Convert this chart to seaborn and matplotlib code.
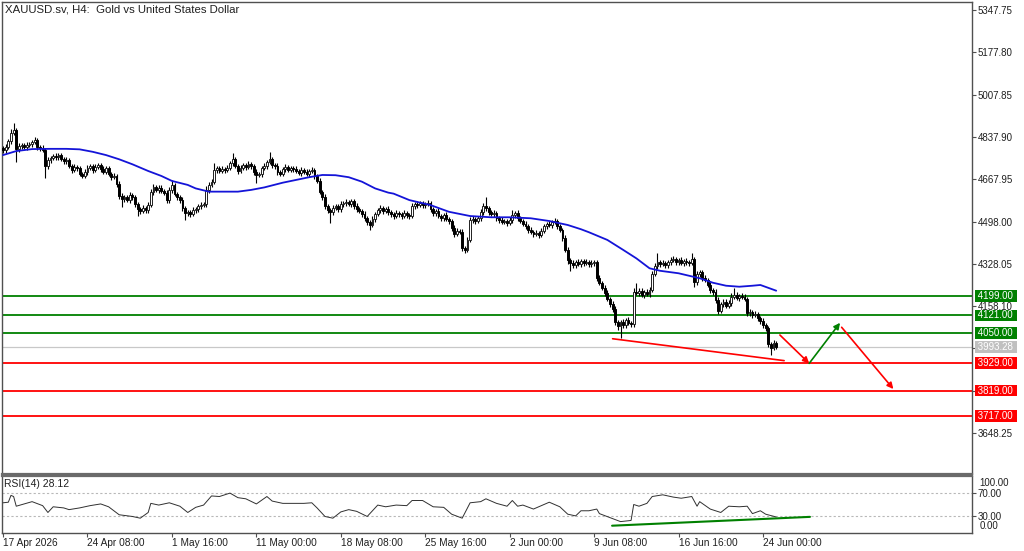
import numpy as np
import matplotlib
matplotlib.use("Agg")
import matplotlib.pyplot as plt
import seaborn as sns

# ---------------- data ----------------
title_text = "XAUUSD.sv, H4:  Gold vs United States Dollar"

first_open = 4793.0
closes = [
    4785, 4797, 4822, 4854, 4866, 4789, 4801, 4805, 4797, 4805,
    4809, 4817, 4826, 4797, 4793, 4785, 4721, 4745, 4753, 4761,
    4757, 4765, 4749, 4741, 4745, 4721, 4705, 4717, 4713, 4689,
    4681, 4697, 4713, 4721, 4705, 4717, 4725, 4709, 4697, 4713,
    4689, 4677, 4681, 4649, 4600, 4588, 4596, 4584, 4604, 4596,
    4568, 4548, 4540, 4552, 4544, 4564, 4617, 4637, 4625, 4633,
    4621, 4613, 4584, 4625, 4645, 4608, 4596, 4584, 4552, 4532,
    4536, 4528, 4544, 4548, 4560, 4564, 4568, 4625, 4645, 4657,
    4705, 4713, 4701, 4709, 4705, 4713, 4733, 4749, 4721, 4701,
    4713, 4725, 4717, 4729, 4721, 4697, 4685, 4689, 4713, 4721,
    4737, 4749, 4725, 4721, 4697, 4689, 4709, 4717, 4705, 4713,
    4709, 4701, 4693, 4705, 4697, 4689, 4701, 4705, 4681, 4661,
    4617, 4596, 4560, 4544, 4536, 4552, 4560, 4548, 4568, 4572,
    4576, 4568, 4580, 4560, 4548, 4540, 4528, 4512, 4496, 4484,
    4508, 4528, 4544, 4552, 4540, 4548, 4536, 4528, 4520, 4532,
    4528, 4520, 4532, 4524, 4520, 4560, 4568, 4564, 4572, 4564,
    4568, 4572, 4548, 4532, 4540, 4520, 4512, 4524, 4508, 4500,
    4472, 4448, 4460, 4456, 4392, 4384, 4424, 4504, 4508, 4500,
    4512, 4536, 4560, 4552, 4536, 4528, 4532, 4512, 4504, 4496,
    4500, 4492, 4504, 4524, 4532, 4512, 4500, 4488, 4480, 4464,
    4456, 4448, 4452, 4444, 4460, 4480, 4488, 4484, 4496, 4500,
    4480, 4464, 4432, 4384, 4343, 4331, 4323, 4335, 4327, 4339,
    4331, 4335, 4327, 4331, 4335, 4271, 4251, 4231, 4211, 4187,
    4167, 4146, 4094, 4078, 4094, 4082, 4102, 4090, 4086, 4215,
    4211, 4219, 4203, 4215, 4207, 4223, 4287, 4319, 4335, 4327,
    4331, 4323, 4335, 4343, 4347, 4335, 4343, 4331, 4339, 4335,
    4331, 4347, 4255, 4287, 4295, 4271, 4263, 4243, 4223, 4215,
    4183, 4138, 4167, 4175, 4159, 4171, 4195, 4203, 4191, 4199,
    4195, 4187, 4130, 4134, 4122, 4126, 4110, 4098, 4082, 4070,
    4006, 3990, 4010, 3993.28,
]
upper_wick = [
    10, 12, 9, 14, 28, 8, 12, 10, 9, 11,
    8, 10, 12, 9, 8, 11, 9, 14, 10, 8,
    12, 9, 10, 8, 13, 10, 9, 12, 10, 8,
    9, 11, 13, 10, 8, 12, 9, 10, 11, 9,
    10, 8, 12, 9, 10, 14, 9, 10, 12, 8,
    9, 10, 8, 12, 9, 11, 10, 13, 9, 10,
    11, 9, 10, 12, 20, 9, 10, 8, 11, 9,
    10, 8, 12, 9, 10, 11, 8, 14, 10, 12,
    28, 9, 10, 12, 9, 11, 10, 24, 9, 10,
    12, 9, 10, 11, 8, 10, 12, 9, 10, 11,
    10, 28, 9, 10, 12, 8, 10, 11, 9, 10,
    9, 11, 10, 12, 8, 10, 9, 12, 10, 9,
    10, 8, 12, 9, 10, 11, 10, 9, 12, 10,
    11, 9, 10, 8, 12, 9, 10, 11, 8, 10,
    12, 10, 9, 11, 10, 8, 12, 9, 10, 11,
    9, 10, 12, 8, 10, 11, 9, 14, 10, 9,
    10, 12, 9, 10, 8, 11, 10, 9, 12, 10,
    9, 11, 10, 8, 12, 9, 10, 14, 11, 9,
    10, 12, 14, 36, 10, 9, 11, 10, 8, 12,
    10, 9, 12, 20, 10, 11, 9, 10, 12, 8,
    10, 9, 11, 8, 12, 10, 9, 11, 10, 12,
    9, 10, 8, 12, 10, 9, 11, 10, 12, 9,
    10, 12, 9, 11, 10, 8, 12, 9, 10, 11,
    9, 10, 12, 8, 10, 11, 9, 12, 10, 14,
    36, 10, 12, 9, 11, 10, 14, 12, 36, 10,
    12, 9, 10, 11, 14, 10, 9, 12, 10, 11,
    10, 24, 8, 12, 10, 9, 11, 10, 12, 9,
    10, 12, 9, 11, 10, 12, 14, 28, 10, 9,
    10, 12, 9, 11, 10, 12, 9, 10, 11, 8,
    10, 9, 12, 8,
]
lower_wick = [
    12, 10, 9, 11, 10, 52, 10, 12, 9, 10,
    9, 10, 8, 12, 10, 9, 48, 10, 12, 9,
    10, 11, 9, 12, 10, 9, 12, 10, 11, 9,
    10, 9, 12, 10, 11, 9, 10, 12, 9, 10,
    9, 12, 10, 11, 10, 32, 12, 9, 10, 11,
    10, 28, 12, 9, 11, 10, 9, 12, 10, 11,
    10, 9, 12, 10, 11, 9, 10, 12, 10, 28,
    12, 10, 9, 11, 10, 12, 9, 10, 11, 9,
    10, 12, 9, 10, 11, 9, 10, 12, 9, 11,
    9, 10, 12, 9, 10, 11, 32, 10, 12, 9,
    10, 9, 12, 10, 11, 9, 10, 12, 9, 10,
    11, 9, 10, 12, 9, 10, 11, 9, 12, 10,
    9, 12, 10, 11, 44, 10, 9, 12, 10, 11,
    10, 9, 11, 12, 10, 9, 12, 10, 11, 20,
    10, 12, 9, 11, 10, 9, 12, 10, 11, 9,
    10, 12, 9, 11, 10, 9, 12, 10, 9, 11,
    10, 9, 12, 10, 11, 9, 10, 12, 9, 10,
    11, 12, 9, 10, 12, 13, 10, 9, 12, 10,
    9, 10, 11, 12, 10, 9, 12, 10, 11, 9,
    10, 12, 9, 11, 10, 12, 9, 10, 11, 12,
    9, 11, 10, 12, 9, 10, 11, 9, 12, 10,
    11, 10, 12, 9, 14, 32, 10, 12, 9, 11,
    10, 9, 12, 10, 11, 12, 10, 9, 12, 10,
    11, 12, 10, 14, 48, 10, 12, 9, 11, 10,
    10, 12, 9, 11, 10, 12, 10, 9, 11, 10,
    9, 11, 10, 12, 9, 10, 11, 9, 12, 10,
    10, 9, 20, 11, 10, 12, 9, 10, 11, 12,
    12, 10, 9, 11, 10, 9, 12, 10, 9, 11,
    10, 9, 12, 10, 11, 9, 10, 12, 11, 10,
    12, 28, 10, 9,
]

# Moving average (blue): bar index -> price
ma_bars = [0, 5, 11, 18, 24, 29, 34, 39, 44, 49, 55, 60, 64, 70, 73, 78, 83, 89, 94, 99,
           106, 111, 116, 121, 126, 131, 136, 141, 146, 148, 154, 162, 169, 177, 185, 192,
           200, 207, 214, 219, 222, 229, 235, 240, 245, 249, 256, 264, 269, 274, 279, 284,
           287, 293]
ma_values = [4765, 4781, 4789, 4790, 4790, 4788, 4778, 4765, 4748, 4728, 4701, 4681, 4661,
             4645, 4631, 4618, 4618, 4618, 4625, 4635, 4654, 4665, 4676, 4685, 4684, 4676,
             4658, 4631, 4614, 4610, 4584, 4564, 4537, 4520, 4515, 4515, 4511, 4500, 4484,
             4467, 4455, 4424, 4384, 4350, 4310, 4300, 4290, 4270, 4252, 4240, 4236, 4240,
             4243, 4220]

# RSI(14) read along the sub-window: bar index -> value
rsi_bars = [0, 2, 3, 4, 5, 11, 15, 17, 19, 23, 25, 29, 33, 37, 40, 44, 49, 52, 55, 56, 59,
            63, 67, 70, 73, 76, 79, 82, 86, 89, 92, 96, 100, 102, 106, 110, 114, 117, 119,
            122, 125, 128, 131, 134, 138, 142, 145, 149, 153, 155, 159, 163, 167, 170, 174,
            177, 181, 183, 187, 191, 193, 195, 197, 201, 205, 207, 211, 214, 217, 219, 222,
            225, 226, 230, 234, 238, 239, 241, 244, 246, 250, 254, 257, 261, 263, 264, 268,
            272, 275, 279, 282, 284, 287, 289, 293]
rsi_values = [53, 54, 66, 64, 47, 55, 48, 36, 46, 44, 41, 44, 48, 51, 46, 32, 29, 26, 36, 52,
              49, 53, 47, 36, 45, 49, 65, 64, 70, 62, 60, 51, 64, 56, 52, 52, 52, 53, 44, 29,
              26, 37, 41, 38, 29, 49, 46, 49, 48, 57, 57, 46, 45, 33, 26, 53, 55, 60, 52, 47,
              57, 47, 49, 42, 50, 54, 46, 33, 30, 39, 39, 42, 34, 27, 20, 22, 50, 47, 52, 64,
              67, 63, 61, 64, 47, 55, 42, 36, 47, 46, 47, 34, 39, 33, 28.12]
rsi_label = "RSI(14) 28.12"

date_labels = ["17 Apr 2026", "24 Apr 08:00", "1 May 16:00", "11 May 00:00", "18 May 08:00",
               "25 May 16:00", "2 Jun 00:00", "9 Jun 08:00", "16 Jun 16:00", "24 Jun 00:00"]
bars_per_label = 32

price_ticks = [5347.75, 5177.80, 5007.85, 4837.90, 4667.95, 4498.00, 4328.05,
               4158.10, 3988.15, 3818.20, 3648.25]
hidden_price_labels = [3988.15, 3818.20]   # covered by price tags in the chart
resistance_levels = [4199.00, 4121.00, 4050.00]
support_levels = [3929.00, 3819.00, 3717.00]
last_price = 3993.28

# drawn analysis: falling red trendline under lows, forecast arrows
trend_bars = [231, 296]
trend_prices = [4027, 3939]
arrow1_bars, arrow1_prices = [294.4, 305.5], [4042, 3928]
arrow2_bars, arrow2_prices = [305.5, 317.2], [3928, 4091]
arrow3_bars, arrow3_prices = [317.8, 337.4], [4073, 3825]
rsi_trend_bars = [230.8, 305.8]
rsi_trend_values = [12.8, 28.3]

# ---------------- styling ----------------
sns.set_theme(style="white")
plt.rcParams["font.family"] = ["Liberation Sans", "DejaVu Sans"]

W, H = 1024, 551
fig = plt.figure(figsize=(W / 100, H / 100), dpi=100, facecolor="white")
ax = fig.add_axes([2 / W, 1 - 474 / H, 970 / W, 472 / H])
axr = fig.add_axes([2 / W, 1 - 533 / H, 970 / W, 57 / H], sharex=ax)

GREEN = "#008000"
RED = "#FF0000"
FRAME = "#505050"
TXT = "#202020"

closes_a = np.array(closes, dtype=float)
n = len(closes_a)
idx = np.arange(n)
opens_a = np.r_[first_open, closes_a[:-1]]
highs = np.maximum(opens_a, closes_a) + np.array(upper_wick)
lows = np.minimum(opens_a, closes_a) - np.array(lower_wick)
bull = closes_a >= opens_a

# horizontal levels
for lv in resistance_levels:
    ax.axhline(lv, color=GREEN, lw=1.3, zorder=2)
for lv in support_levels:
    ax.axhline(lv, color=RED, lw=1.3, zorder=2)
ax.axhline(last_price, color="#C8C8C8", lw=0.9, zorder=1.5)

# candles
ax.vlines(idx, lows, highs, color="black", lw=0.8, zorder=3)
ax.bar(idx[bull], (closes_a - opens_a)[bull], bottom=opens_a[bull], width=0.7,
       color="white", edgecolor="#202020", linewidth=0.7, zorder=4)
ax.bar(idx[~bull], (opens_a - closes_a)[~bull], bottom=closes_a[~bull], width=0.7,
       color="black", edgecolor="black", linewidth=0.7, zorder=4)

# moving average
sns.lineplot(x=ma_bars, y=ma_values, ax=ax, color="#1414D8", lw=1.3, sort=False,
             estimator=None, zorder=5)

# trendline + forecast arrows
ax.plot(trend_bars, trend_prices, color=RED, lw=1.2, zorder=5)
for bx, py, col in [(arrow1_bars, arrow1_prices, RED), (arrow2_bars, arrow2_prices, GREEN),
                    (arrow3_bars, arrow3_prices, RED)]:
    ax.annotate("", xy=(bx[1], py[1]), xytext=(bx[0], py[0]),
                arrowprops=dict(arrowstyle="-|>", color=col, lw=1.2, mutation_scale=9,
                                shrinkA=0, shrinkB=0), zorder=6)

ax.set_xlim(-0.4, 367.2)
ax.set_ylim(3483.5, 5380)
ax.yaxis.tick_right()
ax.set_yticks(price_ticks)
ax.set_yticklabels(["" if p in hidden_price_labels else f"{p:.2f}" for p in price_ticks])
ax.tick_params(axis="y", which="both", direction="out", length=3, width=0.8, pad=1,
               labelsize=7, colors=FRAME, labelcolor=TXT, right=True, left=False)
ax.tick_params(axis="x", which="both", bottom=False, labelbottom=False)
ax.set_xlabel("")
ax.set_ylabel("")
for s in ["left", "top", "right"]:
    ax.spines[s].set_color(FRAME)
    ax.spines[s].set_linewidth(1.0)
ax.spines["bottom"].set_color("#6A6A6A")
ax.spines["bottom"].set_linewidth(1.6)

ax.text(3 / 970, 1 - 2 / 472, title_text, transform=ax.transAxes, ha="left", va="top",
        fontsize=8.2, color=TXT)

# price tags on the right axis
ytr = ax.get_yaxis_transform()
tags = [(lv, GREEN) for lv in resistance_levels] + [(last_price, "#C0C0C0")] + \
       [(lv, RED) for lv in support_levels]
for lv, col in tags:
    ax.text(1.0035, lv, f" {lv:.2f} ", transform=ytr, ha="left", va="center", fontsize=7,
            color="white", clip_on=False, zorder=10,
            bbox=dict(boxstyle="square,pad=0.08", fc=col, ec=col, lw=0))

# ---------------- RSI window ----------------
axr.axhline(70, color="#B8B8B8", lw=0.8, ls=(0, (2, 2)), zorder=1)
axr.axhline(30, color="#B8B8B8", lw=0.8, ls=(0, (2, 2)), zorder=1)
sns.lineplot(x=rsi_bars, y=rsi_values, ax=axr, color="#303030", lw=0.7, sort=False,
             estimator=None, zorder=3)
axr.plot(rsi_trend_bars, rsi_trend_values, color=GREEN, lw=1.5, zorder=4)
axr.set_ylim(0, 100)
axr.yaxis.tick_right()
axr.set_yticks([70, 30])
axr.set_yticklabels(["70.00", "30.00"])
axr.tick_params(axis="y", direction="out", length=3, width=0.8, pad=1, labelsize=7,
                colors=FRAME, labelcolor=TXT, right=True, left=False)
ytr2 = axr.get_yaxis_transform()
axr.text(1.0075, 96, "100.00", transform=ytr2, ha="left", va="top", fontsize=7, color=TXT,
         clip_on=False)
axr.text(1.0075, 4, "0.00", transform=ytr2, ha="left", va="bottom", fontsize=7, color=TXT,
         clip_on=False)
axr.text(2 / 970, 1 - 3 / 57, rsi_label, transform=axr.transAxes, ha="left", va="top",
         fontsize=7.5, color=TXT)

tick_pos = [k * bars_per_label for k in range(len(date_labels))]
axr.set_xticks(tick_pos)
axr.set_xticklabels(date_labels, ha="left")
axr.tick_params(axis="x", direction="out", length=3, width=0.8, pad=0.5, labelsize=7.3,
                colors=FRAME, labelcolor=TXT, bottom=True)
axr.set_xlabel("")
axr.set_ylabel("")
for s in ["left", "bottom", "right"]:
    axr.spines[s].set_color(FRAME)
    axr.spines[s].set_linewidth(1.0)
axr.spines["top"].set_color("#6A6A6A")
axr.spines["top"].set_linewidth(1.6)

fig.savefig("out.png", dpi=100, facecolor="white")
